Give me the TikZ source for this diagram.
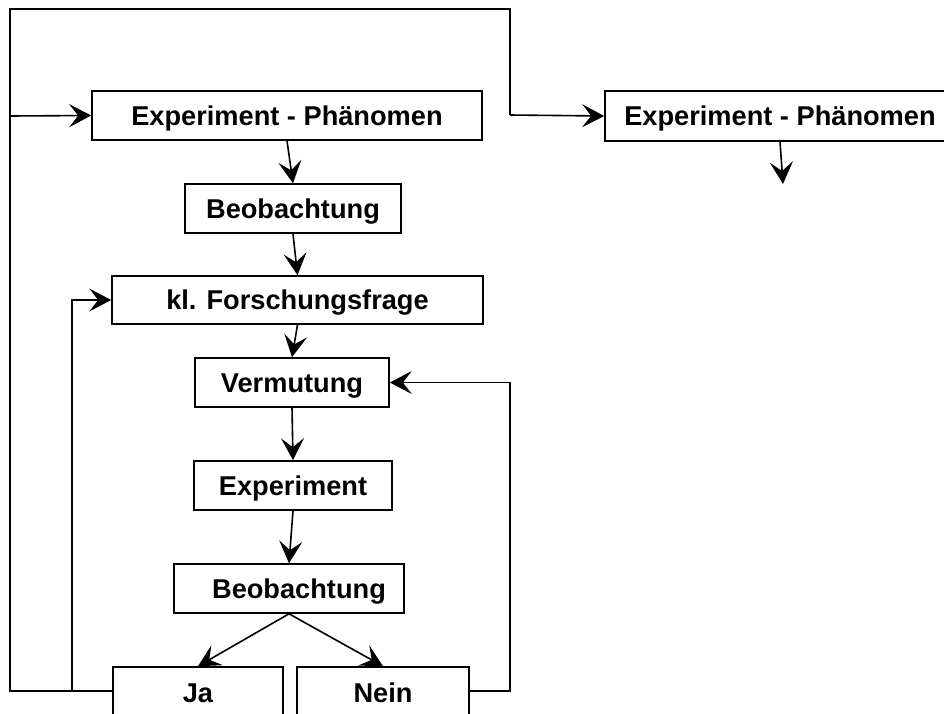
\documentclass[tikz,border=0pt]{standalone}
\usepackage{fontspec}
\setmainfont{Liberation Sans}
\usetikzlibrary{arrows.meta}
\begin{document}
\begin{tikzpicture}[x=1pt,y=-1pt,
  box/.style={draw,line width=1.6pt,inner sep=0pt,align=center,
    text height=19.5pt,text depth=0pt,
    font=\fontsize{27.2}{32}\selectfont\bfseries},
  arr/.style={line width=1.6pt,-{Stealth[length=22pt,width=23pt,inset=9pt]}},
  ln/.style={line width=1.6pt}]
\clip (0,0) rectangle (944,713);
\fill[white] (0,0) rectangle (944,713);
\node[box,minimum width=390pt,minimum height=49pt] (b1) at (287,115.5) {Experiment - Phänomen};
\node[box,minimum width=350pt,minimum height=50pt] (b2) at (780,116) {Experiment - Phänomen};
\node[box,minimum width=216pt,minimum height=49pt] (beob1) at (293,208.5) {Beobachtung};
\node[box,minimum width=371pt,minimum height=48pt] (kl) at (297.5,300) {kl. Forschungsfrage};
\node[box,minimum width=194pt,minimum height=49pt] (verm) at (292,382.5) {Vermutung};
\node[box,minimum width=198pt,minimum height=49pt] (exp) at (293,485.5) {Experiment};
\node[box,minimum width=230pt,minimum height=49pt] (beob2) at (289,588.5) {\hspace*{20pt}Beobachtung};
\node[box,minimum width=170pt,minimum height=52pt] (ja) at (198,693) {Ja};
\node[box,minimum width=172pt,minimum height=52pt] (nein) at (383,693) {Nein};
\coordinate (jl) at (72,691);
\coordinate (ll) at (10,691);
\coordinate (tl) at (10,9);
\coordinate (tr) at (510,9);
\coordinate (lb1) at (10,116);
\coordinate (nr) at (510,691);
\coordinate (b2end) at (783,184);
% vertical chain
\draw[arr] (b1.south) -- (beob1.north);
\draw[arr] (beob1.south) -- (kl.north);
\draw[arr] (kl.south) -- (verm.north);
\draw[arr] (verm.south) -- (exp.north);
\draw[arr] (exp.south) -- (beob2.north);
\draw[arr] (beob2.south) -- (ja.north);
\draw[arr] (beob2.south) -- (nein.north);
\draw[arr] (b2.south) -- (b2end);
% loops
\draw[arr] ([yshift=2pt]ja.west) -- (jl) |- (kl.west);
\draw[ln] (jl) -- (ll) -- (tl) -- (tr) -- (510,115);
\draw[arr] (510,115) -- (b2.west);
\draw[arr] (lb1) -- (b1.west);
\draw[arr] ([yshift=2pt]nein.east) -- (nr) |- (verm.east);
\end{tikzpicture}
\end{document}
